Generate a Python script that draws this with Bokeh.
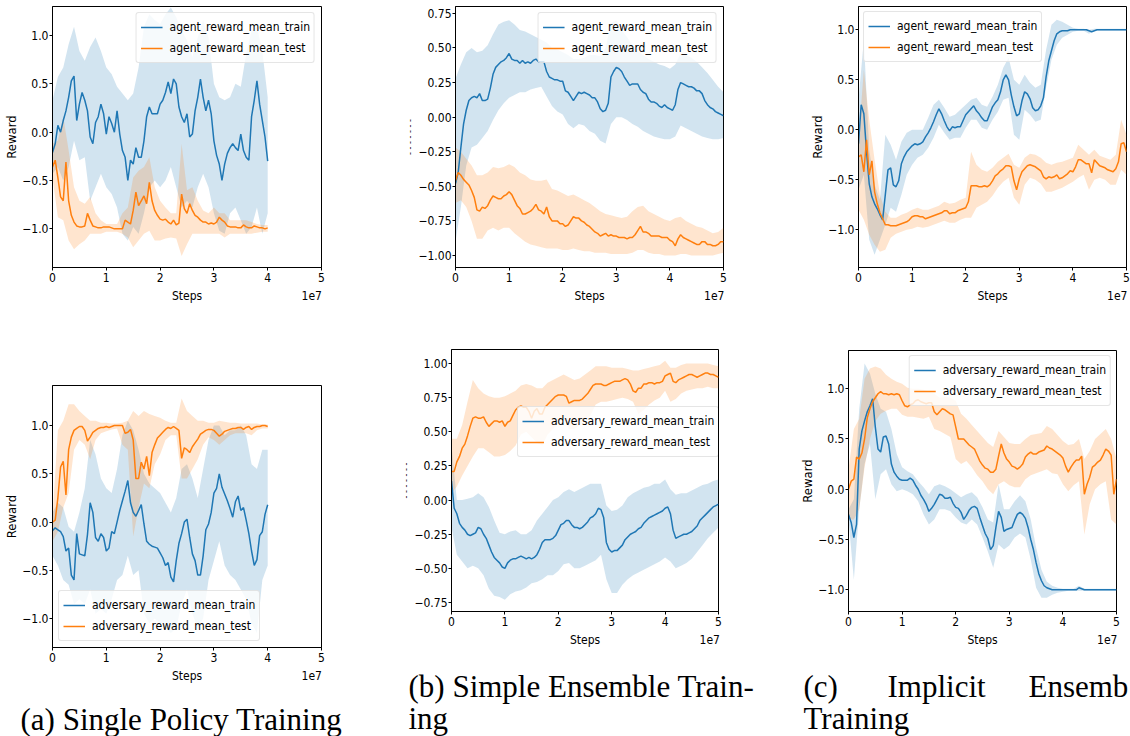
import numpy as np
from bokeh.core.properties import value
from bokeh.embed import file_html
from bokeh.layouts import column, row
from bokeh.models import CustomJSTickFormatter, FixedTicker, Legend, LegendItem, Range1d
from bokeh.plotting import figure
from bokeh.resources import INLINE

BLUE = "#1f77b4"
ORANGE = "#ff7f0e"
SANS = "DejaVu Sans Condensed, DejaVu Sans"
SERIF = "Liberation Serif"

MEAN_STEP = 0.5e6   # env steps between logged running means
BAND_STEP = 1.0e6   # env steps between logged min/max envelopes
STEP_UNIT = 1e7     # x axis is shown in units of 1e7 steps

# ---------------------------------------------------------------- (a) single policy
SINGLE_AGENT_TRAIN = [
    -0.21, -0.12, 0.07, 0.00, 0.12, 0.22, 0.36, 0.53, 0.58, 0.12,
    0.29, 0.41, 0.33, 0.22, -0.05, -0.12, 0.10, 0.16, 0.29, 0.19,
    -0.02, 0.16, 0.09, 0.00, 0.22, -0.02, -0.19, -0.26, -0.50, -0.29,
    -0.33, -0.16, -0.26, -0.26, -0.09, 0.16, 0.26, 0.19, 0.19, 0.19,
    0.29, 0.33, 0.41, 0.52, 0.40, 0.55, 0.50, 0.26, 0.16, 0.10,
    0.19, -0.05, -0.02, 0.22, 0.36, 0.55, 0.36, 0.22, 0.33, 0.19,
    -0.09, -0.24, -0.33, -0.50, -0.33, -0.22, -0.16, -0.12, -0.16, -0.19,
    -0.02, -0.19, -0.26, -0.29, 0.16, 0.33, 0.53, 0.29, 0.12, -0.05,
    -0.30]
SINGLE_AGENT_TRAIN_HI = [
    0.33, 0.57, 0.67, 0.91, 1.09, 0.84, 0.74, 0.88, 0.98, 0.84,
    0.67, 0.60, 0.47, 0.40, 0.33, 0.40, 0.67, 1.09, 1.22, 1.16,
    1.12, 1.22, 1.29, 1.19, 1.05, 0.95, 0.78, 0.98, 1.16, 0.98,
    0.50, 0.36, 0.33, 0.36, 0.50, 0.47, 0.81, 1.05, 1.09, 0.84,
    0.36]
SINGLE_AGENT_TRAIN_LO = [
    -0.43, -0.36, -0.50, -0.36, -0.09, -0.29, -0.26, -0.71, -0.57, -0.43,
    -0.57, -0.64, -0.78, -1.05, -1.12, -0.98, -1.05, -0.84, -0.57, -0.50,
    -0.57, -0.50, -0.36, -0.57, -0.78, -0.71, -0.78, -0.57, -0.43, -0.57,
    -0.84, -1.02, -1.05, -0.84, -0.78, -0.91, -1.05, -0.98, -0.78, -1.05,
    -0.84]
SINGLE_AGENT_TEST = [
    -0.36, -0.29, -0.47, -0.67, -0.71, -0.31, -0.71, -0.86, -0.93, -0.97,
    -0.98, -0.98, -0.97, -0.84, -0.91, -0.97, -0.98, -0.99, -0.99, -0.98,
    -0.98, -0.98, -0.99, -1.00, -1.00, -1.00, -1.00, -0.91, -0.93, -0.95,
    -0.81, -0.62, -0.76, -0.71, -0.66, -0.74, -0.52, -0.71, -0.81, -0.86,
    -0.90, -0.91, -0.90, -0.93, -0.95, -0.91, -0.96, -0.94, -0.64, -0.79,
    -0.84, -0.74, -0.81, -0.86, -0.88, -0.91, -0.93, -0.93, -0.95, -0.94,
    -0.95, -0.93, -0.88, -0.91, -0.93, -0.97, -0.98, -0.98, -0.98, -0.99,
    -0.99, -0.96, -0.98, -0.99, -0.99, -0.97, -0.98, -0.99, -0.99, -1.00,
    -0.99]
SINGLE_AGENT_TEST_HI = [
    -0.12, -0.09, 0.16, -0.19, -0.57, -0.71, -0.74, -0.67, -0.84, -0.91,
    -0.95, -0.95, -0.95, -0.84, -0.78, -0.47, -0.40, -0.36, -0.26, -0.57,
    -0.71, -0.78, -0.84, -0.84, -0.12, -0.60, -0.57, -0.71, -0.81, -0.84,
    -0.78, -0.84, -0.84, -0.91, -0.91, -0.91, -0.91, -0.93, -0.95, -0.96,
    -0.96]
SINGLE_AGENT_TEST_LO = [
    -0.47, -0.88, -0.91, -1.12, -1.21, -1.16, -1.12, -1.05, -1.05, -1.05,
    -1.03, -1.03, -1.03, -1.05, -1.09, -1.19, -1.12, -1.05, -1.02, -1.12,
    -1.12, -1.10, -1.09, -1.10, -1.28, -1.16, -1.05, -1.05, -1.05, -1.05,
    -1.05, -1.05, -1.09, -1.05, -1.05, -1.05, -1.05, -1.05, -1.04, -1.03,
    -1.03]

SINGLE_ADV_TRAIN = [
    -0.09, -0.06, -0.08, -0.10, -0.15, -0.30, -0.27, -0.55, -0.60, -0.12,
    -0.33, -0.34, -0.35, -0.13, 0.20, 0.10, -0.16, -0.20, -0.12, -0.16,
    -0.30, -0.27, -0.10, -0.12, 0.00, 0.12, 0.22, 0.32, 0.43, 0.20,
    0.10, 0.06, 0.12, 0.18, -0.02, -0.20, -0.23, -0.25, -0.26, -0.27,
    -0.32, -0.37, -0.45, -0.42, -0.57, -0.62, -0.40, -0.22, -0.12, 0.00,
    0.03, -0.16, -0.33, -0.40, -0.55, -0.55, -0.35, -0.08, -0.02, 0.10,
    0.30, 0.35, 0.50, 0.36, 0.29, 0.22, 0.14, 0.05, 0.21, 0.27,
    0.12, 0.15, 0.02, -0.12, -0.30, -0.45, -0.39, -0.14, -0.10, 0.08,
    0.18]
SINGLE_ADV_TRAIN_HI = [
    0.10, 0.20, 0.15, -0.05, -0.10, 0.10, 0.35, 0.85, 0.70, 0.45,
    0.35, 0.30, 0.55, 0.90, 1.05, 0.95, 0.75, 0.50, 0.40, 0.35,
    0.30, 0.20, 0.10, 0.25, 0.55, 0.60, 0.45, 0.25, 0.55, 0.85,
    1.00, 1.00, 0.90, 0.95, 0.95, 1.00, 0.90, 0.60, 0.55, 0.75,
    0.75]
SINGLE_ADV_TRAIN_LO = [
    -0.35, -0.45, -0.60, -0.65, -0.85, -0.80, -0.85, -0.70, -0.95, -0.90,
    -0.95, -0.80, -0.60, -0.55, -0.35, -0.55, -0.50, -0.95, -1.05, -1.00,
    -1.05, -1.10, -1.15, -1.10, -0.85, -0.70, -0.95, -1.10, -1.00, -0.60,
    -0.40, -0.20, -0.45, -0.55, -0.60, -0.70, -0.80, -1.05, -1.15, -0.60,
    -0.45]
SINGLE_ADV_TEST = [
    0.00, 0.02, 0.25, 0.57, 0.63, 0.28, 0.75, 0.88, 0.95, 0.97,
    0.99, 0.99, 0.95, 0.84, 0.88, 0.93, 0.95, 0.97, 0.98, 0.98,
    0.99, 0.98, 0.99, 1.00, 1.00, 1.00, 1.00, 0.92, 0.93, 0.96,
    0.85, 0.45, 0.45, 0.62, 0.55, 0.68, 0.48, 0.72, 0.80, 0.87,
    0.90, 0.93, 0.96, 0.98, 0.97, 0.99, 0.97, 0.95, 0.66, 0.77,
    0.75, 0.72, 0.78, 0.82, 0.86, 0.91, 0.93, 0.95, 0.96, 0.96,
    0.95, 0.92, 0.89, 0.91, 0.94, 0.95, 0.96, 0.97, 0.97, 0.98,
    0.98, 0.96, 0.98, 0.99, 0.96, 0.98, 0.99, 0.99, 1.00, 1.00,
    0.99]
SINGLE_ADV_TEST_HI = [
    0.05, 0.95, 1.05, 1.22, 1.22, 1.15, 1.10, 1.05, 1.05, 1.03,
    1.03, 1.02, 1.02, 1.03, 1.05, 1.15, 1.10, 1.15, 1.12, 1.10,
    1.08, 1.05, 1.03, 1.03, 1.28, 1.15, 1.10, 1.05, 1.05, 1.03,
    1.03, 1.05, 1.04, 1.03, 1.03, 1.02, 1.02, 1.02, 1.02, 1.01,
    1.01]
SINGLE_ADV_TEST_LO = [
    -0.20, -0.10, 0.15, 0.30, 0.75, 0.85, 0.80, 0.65, 0.85, 0.92,
    0.94, 0.96, 0.97, 0.80, 0.75, -0.15, 0.15, 0.40, 0.35, 0.60,
    0.70, 0.85, 0.90, 0.90, 0.45, 0.45, 0.55, 0.65, 0.80, 0.88,
    0.85, 0.80, 0.85, 0.90, 0.92, 0.92, 0.92, 0.90, 0.95, 0.97,
    0.97]

# ---------------------------------------------------------------- (b) simple ensemble
ENSEMBLE_AGENT_TRAIN = [
    -0.48, -0.40, -0.22, -0.05, 0.05, 0.12, 0.14, 0.15, 0.14, 0.17,
    0.12, 0.12, 0.13, 0.21, 0.31, 0.36, 0.38, 0.40, 0.41, 0.43,
    0.46, 0.42, 0.41, 0.41, 0.39, 0.41, 0.39, 0.40, 0.39, 0.41,
    0.42, 0.40, 0.40, 0.40, 0.33, 0.29, 0.28, 0.27, 0.27, 0.26,
    0.26, 0.19, 0.18, 0.15, 0.12, 0.15, 0.18, 0.17, 0.18, 0.17,
    0.16, 0.14, 0.14, 0.11, 0.06, 0.04, 0.05, 0.10, 0.29, 0.33,
    0.36, 0.35, 0.33, 0.29, 0.26, 0.23, 0.24, 0.24, 0.24, 0.20,
    0.18, 0.17, 0.13, 0.11, 0.11, 0.10, 0.08, 0.07, 0.09, 0.07,
    0.06, 0.05, 0.09, 0.20, 0.25, 0.24, 0.23, 0.22, 0.22, 0.21,
    0.19, 0.19, 0.17, 0.12, 0.09, 0.07, 0.06, 0.04, 0.03, 0.02,
    0.01]
ENSEMBLE_AGENT_TRAIN_HI = [
    0.28, 0.38, 0.47, 0.50, 0.47, 0.48, 0.52, 0.60, 0.67, 0.69,
    0.70, 0.67, 0.63, 0.62, 0.60, 0.58, 0.56, 0.54, 0.50, 0.49,
    0.47, 0.45, 0.42, 0.42, 0.43, 0.45, 0.45, 0.44, 0.50, 0.68,
    0.70, 0.63, 0.58, 0.52, 0.48, 0.45, 0.42, 0.40, 0.38, 0.37,
    0.35, 0.38, 0.46, 0.45, 0.43, 0.40, 0.36, 0.32, 0.27, 0.22,
    0.18]
ENSEMBLE_AGENT_TRAIN_LO = [
    -0.90, -0.65, -0.35, -0.22, -0.20, -0.15, -0.10, -0.02, 0.05, 0.10,
    0.14, 0.16, 0.18, 0.18, 0.20, 0.21, 0.22, 0.15, 0.08, 0.04,
    0.02, -0.05, -0.08, -0.05, -0.06, -0.10, -0.12, -0.17, -0.19, -0.05,
    0.00, 0.00, -0.02, -0.05, -0.07, -0.10, -0.12, -0.14, -0.15, -0.16,
    -0.16, -0.14, -0.06, -0.08, -0.10, -0.12, -0.14, -0.15, -0.16, -0.16,
    -0.15]
ENSEMBLE_AGENT_TEST = [
    -0.46, -0.40, -0.42, -0.45, -0.47, -0.49, -0.53, -0.58, -0.67, -0.68,
    -0.65, -0.66, -0.64, -0.60, -0.57, -0.58, -0.59, -0.59, -0.57, -0.56,
    -0.54, -0.56, -0.60, -0.64, -0.66, -0.70, -0.70, -0.69, -0.68, -0.66,
    -0.63, -0.67, -0.68, -0.70, -0.65, -0.72, -0.75, -0.75, -0.75, -0.77,
    -0.77, -0.79, -0.78, -0.75, -0.72, -0.73, -0.73, -0.75, -0.76, -0.78,
    -0.79, -0.81, -0.83, -0.84, -0.86, -0.85, -0.84, -0.86, -0.85, -0.86,
    -0.86, -0.87, -0.87, -0.87, -0.88, -0.87, -0.87, -0.85, -0.82, -0.79,
    -0.83, -0.83, -0.84, -0.86, -0.86, -0.86, -0.86, -0.87, -0.87, -0.87,
    -0.89, -0.90, -0.93, -0.88, -0.85, -0.87, -0.88, -0.89, -0.90, -0.91,
    -0.92, -0.92, -0.90, -0.90, -0.92, -0.92, -0.93, -0.93, -0.92, -0.90,
    -0.90]
ENSEMBLE_AGENT_TEST_HI = [
    -0.22, -0.25, -0.30, -0.35, -0.42, -0.42, -0.40, -0.36, -0.37, -0.36,
    -0.34, -0.36, -0.40, -0.42, -0.45, -0.46, -0.46, -0.45, -0.52, -0.53,
    -0.55, -0.57, -0.56, -0.58, -0.60, -0.62, -0.65, -0.68, -0.70, -0.71,
    -0.72, -0.73, -0.72, -0.68, -0.65, -0.64, -0.68, -0.70, -0.72, -0.74,
    -0.75, -0.73, -0.72, -0.75, -0.77, -0.79, -0.80, -0.82, -0.84, -0.83,
    -0.80]
ENSEMBLE_AGENT_TEST_LO = [
    -0.62, -0.60, -0.65, -0.75, -0.88, -0.88, -0.82, -0.80, -0.82, -0.80,
    -0.80, -0.84, -0.87, -0.90, -0.92, -0.93, -0.94, -0.95, -0.95, -0.95,
    -0.96, -0.96, -0.95, -0.96, -0.97, -0.97, -0.98, -0.98, -0.98, -0.99,
    -0.99, -0.99, -0.99, -0.98, -0.96, -0.96, -0.98, -0.99, -0.99, -1.00,
    -1.00, -1.00, -0.99, -0.99, -1.00, -1.00, -1.00, -1.00, -1.00, -0.99,
    -0.98]

ENSEMBLE_ADV_TRAIN = [
    0.14, -0.06, -0.10, -0.17, -0.20, -0.22, -0.25, -0.26, -0.25, -0.24,
    -0.20, -0.21, -0.25, -0.28, -0.33, -0.38, -0.42, -0.44, -0.46, -0.49,
    -0.50, -0.46, -0.44, -0.43, -0.43, -0.42, -0.41, -0.42, -0.43, -0.42,
    -0.43, -0.42, -0.40, -0.36, -0.31, -0.29, -0.29, -0.29, -0.28, -0.26,
    -0.22, -0.18, -0.17, -0.15, -0.15, -0.18, -0.20, -0.20, -0.21, -0.20,
    -0.18, -0.16, -0.13, -0.12, -0.10, -0.06, -0.07, -0.13, -0.31, -0.36,
    -0.38, -0.37, -0.37, -0.35, -0.33, -0.29, -0.27, -0.25, -0.24, -0.23,
    -0.21, -0.20, -0.17, -0.15, -0.13, -0.12, -0.11, -0.10, -0.09, -0.08,
    -0.06, -0.05, -0.10, -0.22, -0.28, -0.27, -0.26, -0.25, -0.25, -0.24,
    -0.23, -0.21, -0.19, -0.15, -0.13, -0.11, -0.09, -0.07, -0.05, -0.04,
    -0.03]
ENSEMBLE_ADV_TRAIN_HI = [
    0.40, 0.00, 0.00, 0.01, 0.02, 0.05, 0.02, -0.05, -0.15, -0.24,
    -0.25, -0.23, -0.22, -0.25, -0.25, -0.22, -0.15, -0.10, -0.05, 0.00,
    0.02, 0.06, 0.08, 0.06, 0.08, 0.10, 0.12, 0.12, 0.12, -0.04,
    -0.08, -0.07, -0.04, 0.02, 0.05, 0.07, 0.09, 0.10, 0.12, 0.12,
    0.15, 0.08, 0.04, 0.05, 0.05, 0.07, 0.09, 0.11, 0.12, 0.14,
    0.15]
ENSEMBLE_ADV_TRAIN_LO = [
    -0.20, -0.40, -0.45, -0.50, -0.48, -0.50, -0.55, -0.65, -0.70, -0.71,
    -0.73, -0.69, -0.67, -0.66, -0.64, -0.61, -0.60, -0.58, -0.55, -0.55,
    -0.52, -0.47, -0.46, -0.50, -0.50, -0.48, -0.46, -0.44, -0.40, -0.58,
    -0.68, -0.68, -0.62, -0.58, -0.55, -0.53, -0.51, -0.49, -0.47, -0.45,
    -0.42, -0.45, -0.50, -0.48, -0.46, -0.43, -0.38, -0.33, -0.28, -0.24,
    -0.20]
ENSEMBLE_ADV_TEST = [
    0.21, 0.21, 0.28, 0.32, 0.38, 0.41, 0.47, 0.54, 0.60, 0.61,
    0.60, 0.60, 0.61, 0.57, 0.54, 0.56, 0.58, 0.58, 0.57, 0.58,
    0.54, 0.57, 0.58, 0.62, 0.66, 0.68, 0.69, 0.68, 0.68, 0.65,
    0.60, 0.65, 0.67, 0.63, 0.63, 0.68, 0.70, 0.72, 0.74, 0.76,
    0.77, 0.77, 0.77, 0.76, 0.71, 0.72, 0.73, 0.73, 0.73, 0.74,
    0.76, 0.78, 0.81, 0.84, 0.85, 0.85, 0.85, 0.84, 0.84, 0.85,
    0.86, 0.87, 0.87, 0.87, 0.88, 0.89, 0.88, 0.85, 0.80, 0.79,
    0.82, 0.82, 0.85, 0.85, 0.86, 0.86, 0.85, 0.86, 0.86, 0.87,
    0.91, 0.92, 0.93, 0.87, 0.86, 0.88, 0.89, 0.90, 0.91, 0.92,
    0.92, 0.91, 0.90, 0.91, 0.92, 0.93, 0.93, 0.92, 0.92, 0.91,
    0.90]
ENSEMBLE_ADV_TEST_HI = [
    0.45, 0.45, 0.55, 0.72, 0.88, 0.82, 0.78, 0.76, 0.75, 0.75,
    0.76, 0.78, 0.80, 0.84, 0.85, 0.84, 0.82, 0.82, 0.86, 0.88,
    0.90, 0.92, 0.90, 0.88, 0.89, 0.92, 0.95, 0.98, 0.98, 0.98,
    0.97, 0.97, 0.97, 0.96, 0.95, 0.95, 0.96, 0.97, 0.98, 0.99,
    1.02, 0.97, 0.97, 0.99, 1.00, 1.00, 1.00, 1.00, 1.00, 0.99,
    0.98]
ENSEMBLE_ADV_TEST_LO = [
    0.05, 0.10, 0.18, 0.25, 0.32, 0.38, 0.38, 0.35, 0.32, 0.32,
    0.33, 0.36, 0.40, 0.48, 0.50, 0.46, 0.42, 0.40, 0.48, 0.52,
    0.56, 0.60, 0.52, 0.52, 0.55, 0.58, 0.62, 0.70, 0.72, 0.72,
    0.73, 0.74, 0.75, 0.74, 0.72, 0.63, 0.66, 0.70, 0.73, 0.75,
    0.80, 0.72, 0.74, 0.78, 0.80, 0.81, 0.82, 0.82, 0.83, 0.82,
    0.82]

# ---------------------------------------------------------------- (c) implicit ensemble
IMPLICIT_AGENT_TRAIN = [
    -0.14, 0.25, 0.16, -0.22, -0.54, -0.67, -0.74, -0.79, -0.85, -0.90,
    -0.65, -0.40, -0.38, -0.55, -0.57, -0.51, -0.34, -0.27, -0.22, -0.19,
    -0.16, -0.14, -0.15, -0.14, -0.12, -0.07, -0.03, 0.02, 0.08, 0.15,
    0.21, 0.16, 0.09, 0.03, -0.01, 0.03, 0.02, 0.03, 0.03, 0.09,
    0.15, 0.18, 0.21, 0.24, 0.19, 0.16, 0.12, 0.09, 0.09, 0.16,
    0.23, 0.27, 0.30, 0.38, 0.50, 0.55, 0.50, 0.35, 0.23, 0.14,
    0.16, 0.29, 0.38, 0.36, 0.31, 0.22, 0.19, 0.20, 0.24, 0.32,
    0.53, 0.69, 0.79, 0.89, 0.96, 0.98, 0.99, 0.99, 0.99, 1.00,
    1.00, 1.00, 1.00, 1.00, 1.00, 1.00, 0.99, 0.98, 0.99, 1.00,
    1.00, 1.00, 1.00, 1.00, 1.00, 1.00, 1.00, 1.00, 1.00, 1.00,
    1.00]
IMPLICIT_AGENT_TRAIN_HI = [
    0.30, 0.90, -0.20, -0.55, -0.70, -0.05, -0.15, -0.30, -0.12, -0.03,
    0.00, 0.00, 0.00, 0.12, 0.25, 0.30, 0.22, 0.13, 0.15, 0.20,
    0.25, 0.30, 0.32, 0.25, 0.23, 0.33, 0.45, 0.62, 0.72, 0.50,
    0.45, 0.55, 0.47, 0.42, 0.45, 0.80, 1.05, 1.10, 1.08, 1.05,
    1.02, 1.01, 1.01, 1.00, 1.01, 1.01, 1.01, 1.01, 1.01, 1.01,
    1.01]
IMPLICIT_AGENT_TRAIN_LO = [
    -0.60, -0.45, -1.10, -1.25, -1.10, -0.95, -0.78, -0.82, -0.65, -0.45,
    -0.35, -0.28, -0.25, -0.18, -0.08, 0.05, -0.03, -0.10, -0.08, -0.08,
    0.02, 0.10, 0.10, 0.02, 0.00, 0.10, 0.18, 0.30, 0.32, -0.05,
    -0.10, 0.20, 0.15, 0.08, 0.10, 0.42, 0.70, 0.85, 0.92, 0.95,
    0.98, 0.99, 0.99, 0.96, 0.99, 0.99, 0.99, 0.99, 0.99, 0.99,
    0.99]
IMPLICIT_AGENT_TEST = [
    -0.27, -0.25, -0.42, -0.10, -0.45, -0.31, -0.62, -0.74, -0.83, -0.89,
    -0.95, -0.95, -0.96, -0.96, -0.96, -0.95, -0.94, -0.93, -0.92, -0.90,
    -0.87, -0.86, -0.86, -0.87, -0.87, -0.89, -0.88, -0.87, -0.86, -0.85,
    -0.84, -0.83, -0.81, -0.81, -0.84, -0.83, -0.83, -0.81, -0.80, -0.79,
    -0.78, -0.72, -0.56, -0.56, -0.56, -0.57, -0.57, -0.56, -0.57, -0.55,
    -0.51, -0.46, -0.44, -0.41, -0.39, -0.36, -0.36, -0.37, -0.51, -0.60,
    -0.49, -0.42, -0.39, -0.36, -0.35, -0.36, -0.37, -0.39, -0.41, -0.47,
    -0.49, -0.47, -0.48, -0.47, -0.45, -0.49, -0.48, -0.46, -0.44, -0.41,
    -0.42, -0.37, -0.30, -0.30, -0.32, -0.34, -0.34, -0.43, -0.30, -0.33,
    -0.36, -0.37, -0.38, -0.40, -0.41, -0.42, -0.39, -0.32, -0.14, -0.13,
    -0.22]
IMPLICIT_AGENT_TEST_HI = [
    -0.10, 0.60, 0.10, -0.30, -0.65, -0.82, -0.88, -0.88, -0.85, -0.83,
    -0.80, -0.78, -0.80, -0.80, -0.78, -0.76, -0.72, -0.74, -0.73, -0.70,
    -0.68, -0.22, -0.35, -0.40, -0.42, -0.38, -0.32, -0.28, -0.24, -0.35,
    -0.38, -0.28, -0.24, -0.25, -0.28, -0.33, -0.35, -0.33, -0.32, -0.30,
    -0.28, -0.15, -0.20, -0.25, -0.20, -0.26, -0.28, -0.30, -0.25, 0.10,
    -0.05]
IMPLICIT_AGENT_TEST_LO = [
    -0.80, -0.90, -1.05, -1.15, -1.22, -1.20, -1.08, -1.04, -1.02, -1.00,
    -0.99, -0.97, -0.98, -0.97, -0.95, -0.93, -0.91, -0.93, -0.93, -0.90,
    -0.88, -0.88, -0.78, -0.75, -0.72, -0.66, -0.58, -0.52, -0.48, -0.68,
    -0.75, -0.55, -0.48, -0.50, -0.54, -0.62, -0.62, -0.60, -0.58, -0.55,
    -0.52, -0.48, -0.45, -0.60, -0.50, -0.48, -0.50, -0.55, -0.55, -0.40,
    -0.45]

IMPLICIT_ADV_TRAIN = [
    -0.25, -0.33, -0.48, -0.35, 0.40, 0.58, 0.68, 0.77, 0.83, 0.90,
    0.62, 0.40, 0.37, 0.52, 0.53, 0.45, 0.25, 0.17, 0.13, 0.10,
    0.09, 0.09, 0.09, 0.11, 0.09, 0.04, 0.00, -0.06, -0.10, -0.15,
    -0.22, -0.19, -0.15, -0.10, -0.05, -0.06, -0.09, -0.09, -0.08, -0.14,
    -0.18, -0.19, -0.23, -0.30, -0.26, -0.21, -0.18, -0.17, -0.19, -0.28,
    -0.36, -0.44, -0.49, -0.60, -0.56, -0.38, -0.22, -0.28, -0.42, -0.40,
    -0.39, -0.38, -0.31, -0.25, -0.23, -0.25, -0.29, -0.38, -0.50, -0.60,
    -0.73, -0.84, -0.91, -0.96, -0.98, -0.99, -1.00, -1.00, -1.00, -1.00,
    -1.00, -1.00, -1.00, -1.00, -1.00, -1.00, -0.98, -0.99, -1.00, -1.00,
    -1.00, -1.00, -1.00, -1.00, -1.00, -1.00, -1.00, -1.00, -1.00, -1.00,
    -1.00]
IMPLICIT_ADV_TRAIN_HI = [
    -0.20, -0.10, 0.80, 1.25, 1.15, 0.95, 0.80, 0.77, 0.60, 0.35,
    0.22, 0.18, 0.15, 0.08, 0.02, -0.05, 0.03, 0.05, 0.03, 0.00,
    -0.04, -0.08, -0.05, -0.03, -0.08, -0.18, -0.30, -0.33, 0.05, -0.20,
    -0.20, -0.12, -0.06, -0.12, -0.30, -0.58, -0.80, -0.92, -0.96, -0.98,
    -0.99, -0.99, -0.99, -0.96, -0.99, -0.99, -0.99, -0.99, -0.99, -0.99,
    -0.99]
IMPLICIT_ADV_TRAIN_LO = [
    -0.30, -0.90, -0.20, 0.25, 0.45, -0.10, 0.15, 0.20, 0.05, -0.02,
    0.00, -0.02, -0.05, -0.12, -0.25, -0.35, -0.30, -0.20, -0.20, -0.22,
    -0.28, -0.33, -0.35, -0.30, -0.35, -0.48, -0.62, -0.78, -0.55, -0.60,
    -0.56, -0.48, -0.44, -0.48, -0.70, -0.98, -1.08, -1.08, -1.05, -1.03,
    -1.02, -1.01, -1.01, -1.01, -1.01, -1.01, -1.01, -1.01, -1.01, -1.01,
    -1.01]
IMPLICIT_ADV_TEST = [
    0.00, 0.08, 0.10, 0.32, 0.30, 0.36, 0.50, 0.71, 0.80, 0.87,
    0.91, 0.95, 0.97, 0.95, 0.95, 0.94, 0.95, 0.94, 0.95, 0.94,
    0.88, 0.83, 0.82, 0.84, 0.85, 0.88, 0.89, 0.87, 0.86, 0.85,
    0.86, 0.86, 0.77, 0.74, 0.77, 0.80, 0.79, 0.77, 0.75, 0.74,
    0.62, 0.50, 0.50, 0.50, 0.47, 0.44, 0.42, 0.40, 0.34, 0.28,
    0.24, 0.21, 0.20, 0.17, 0.17, 0.20, 0.33, 0.45, 0.36, 0.30,
    0.27, 0.23, 0.22, 0.20, 0.22, 0.25, 0.32, 0.35, 0.37, 0.35,
    0.35, 0.37, 0.38, 0.39, 0.43, 0.41, 0.40, 0.38, 0.36, 0.34,
    0.31, 0.23, 0.17, 0.22, 0.26, 0.29, 0.29, 0.33, -0.05, 0.05,
    0.12, 0.22, 0.24, 0.27, 0.29, 0.34, 0.40, 0.38, 0.34, -0.05,
    0.10]
IMPLICIT_ADV_TEST_HI = [
    0.20, 0.60, 0.70, 1.10, 1.20, 1.22, 1.20, 1.14, 1.10, 1.07,
    1.05, 1.01, 1.00, 1.00, 0.99, 0.97, 0.95, 0.91, 0.92, 0.91,
    0.88, 0.75, 0.70, 0.64, 0.58, 0.52, 0.46, 0.42, 0.58, 0.52,
    0.46, 0.45, 0.45, 0.50, 0.54, 0.55, 0.56, 0.63, 0.60, 0.54,
    0.48, 0.44, 0.45, 0.50, 0.30, 0.38, 0.50, 0.55, 0.60, 0.50,
    0.30]
IMPLICIT_ADV_TEST_LO = [
    -0.30, -0.30, -0.20, 0.22, 0.50, 0.68, 0.75, 0.78, 0.80, 0.80,
    0.74, 0.72, 0.72, 0.71, 0.70, 0.72, 0.60, 0.58, 0.55, 0.52,
    0.30, 0.25, 0.28, 0.22, 0.14, 0.08, 0.00, -0.05, 0.05, 0.08,
    0.04, 0.02, 0.02, 0.10, 0.14, 0.16, 0.18, 0.20, 0.16, 0.15,
    0.05, -0.02, 0.04, 0.08, -0.45, -0.15, 0.00, 0.05, 0.08, -0.30,
    -0.35]

X_TICKS = [0, 1, 2, 3, 4, 5]
AGENT_NAMES = ["agent_reward_mean_train", "agent_reward_mean_test"]
ADV_NAMES = ["adversary_reward_mean_train", "adversary_reward_mean_test"]
TICKS_HALF = [-1.0, -0.5, 0.0, 0.5, 1.0]
TICKS_QUARTER_AGENT = [-1.0, -0.75, -0.5, -0.25, 0.0, 0.25, 0.5, 0.75]
TICKS_QUARTER_ADV = [-0.75, -0.5, -0.25, 0.0, 0.25, 0.5, 0.75, 1.0]

NBSP = "\u00a0"


def steps(vals, step):
    return np.arange(len(vals)) * step / STEP_UNIT


def x_label(frame_w):
    # "Steps" centred under the frame, the 1e7 multiplier flush right on the same line
    space_w, steps_w, exp_w = 3.43, 30.2, 20.4
    mid = round((frame_w / 2 - steps_w / 2 - exp_w) / space_w)
    pad = round((mid * space_w + exp_w) / space_w)
    return NBSP * pad + "Steps" + NBSP * mid + "1e7"


def free_frame(p):
    # keep each plot's frame where its own borders put it inside the layout
    if "frame_align" in p.properties():
        p.frame_align = False
    return p


def make_panel(width, height, borders, y_range, yticks, decimals, ylabel,
               ylabel_size, train, test, names, legend_location, legend_margin):
    left, right, top, bottom = borders
    p = figure(width=width, height=height, title=None, toolbar_location=None,
               output_backend="svg", x_range=Range1d(0, 5), y_range=Range1d(*y_range),
               min_border_left=left, min_border_right=right,
               min_border_top=top, min_border_bottom=bottom,
               background_fill_color="white", border_fill_color="white")
    free_frame(p)
    p.grid.visible = False
    p.outline_line_color = "black"
    p.outline_line_width = 1

    p.xaxis.ticker = FixedTicker(ticks=X_TICKS)
    p.yaxis.ticker = FixedTicker(ticks=yticks)
    p.yaxis.formatter = CustomJSTickFormatter(args=dict(nd=decimals), code="""
        const s = Math.abs(tick).toFixed(nd);
        return tick < -1e-9 ? "\\u2212" + s : s;
    """)
    p.axis.major_tick_out = 3
    p.axis.major_tick_in = 0
    p.axis.minor_tick_out = 0
    p.axis.minor_tick_in = 0
    p.axis.axis_line_color = "black"
    p.axis.major_tick_line_color = "black"
    p.axis.major_label_text_font = SANS
    p.axis.major_label_text_font_size = "12px"
    p.axis.major_label_text_color = "black"
    p.axis.axis_label_text_font = SANS
    p.axis.axis_label_text_font_style = "normal"
    p.axis.axis_label_text_color = "black"
    p.xaxis.major_label_standoff = 2
    p.yaxis.major_label_standoff = 1
    p.xaxis.axis_label = x_label(width - left - right)
    p.xaxis.axis_label_text_font_size = "12px"
    p.xaxis.axis_label_standoff = 4
    p.yaxis.axis_label = ylabel
    p.yaxis.axis_label_text_font_size = ylabel_size
    p.yaxis.axis_label_standoff = 0

    series = [(train, BLUE), (test, ORANGE)]
    for (mean, hi, lo), color in series:
        p.varea(x=steps(hi, BAND_STEP), y1=lo, y2=hi,
                fill_color=color, fill_alpha=0.2)
    lines = []
    for (mean, hi, lo), color in series:
        lines.append(p.line(steps(mean, MEAN_STEP), mean,
                            line_color=color, line_width=1.5))

    legend = Legend(
        items=[LegendItem(label=n, renderers=[r]) for n, r in zip(names, lines)],
        location=legend_location, margin=legend_margin, padding=4, spacing=1,
        glyph_width=22, glyph_height=20, label_height=20, label_standoff=7,
        label_text_font=SANS, label_text_font_size="12px", label_text_color="black",
        border_line_color="#cccccc", border_line_width=1,
        background_fill_color="white", background_fill_alpha=0.8)
    if "border_radius" in legend.properties():
        legend.border_radius = 3
    p.add_layout(legend)
    return p


def make_caption(width, height, xs, ys, texts):
    c = figure(width=width, height=height, title=None, toolbar_location=None,
               output_backend="svg", x_range=Range1d(0, width),
               y_range=Range1d(height, 0), x_axis_type=None, y_axis_type=None,
               min_border=0, outline_line_color=None,
               background_fill_color="white", border_fill_color="white")
    free_frame(c)
    c.text(x=xs, y=ys, text=texts, text_font=value(SERIF), text_font_size="31px",
           text_color="black", text_baseline="alphabetic", text_align="left")
    return c


single_agent = make_panel(
    390, 330, (52, 69, 6, 63), (-1.40, 1.30), TICKS_HALF, 1, "Reward", "13px",
    (SINGLE_AGENT_TRAIN, SINGLE_AGENT_TRAIN_HI, SINGLE_AGENT_TRAIN_LO),
    (SINGLE_AGENT_TEST, SINGLE_AGENT_TEST_HI, SINGLE_AGENT_TEST_LO),
    AGENT_NAMES, "top_right", 6)
single_adv = make_panel(
    390, 360, (52, 69, 55, 43), (-1.30, 1.415), TICKS_HALF, 1, "Reward", "13px",
    (SINGLE_ADV_TRAIN, SINGLE_ADV_TRAIN_HI, SINGLE_ADV_TRAIN_LO),
    (SINGLE_ADV_TEST, SINGLE_ADV_TEST_HI, SINGLE_ADV_TEST_LO),
    ADV_NAMES, "bottom_left", 6)

ensemble_agent = make_panel(
    400, 330, (65, 67, 6, 63), (-1.087, 0.80), TICKS_QUARTER_AGENT, 2,
    "- - - - - - -", "9px",
    (ENSEMBLE_AGENT_TRAIN, ENSEMBLE_AGENT_TRAIN_HI, ENSEMBLE_AGENT_TRAIN_LO),
    (ENSEMBLE_AGENT_TEST, ENSEMBLE_AGENT_TEST_HI, ENSEMBLE_AGENT_TEST_LO),
    AGENT_NAMES, "top_right", 6)
ensemble_adv = make_panel(
    400, 335, (61, 72, 19, 54), (-0.816, 1.103), TICKS_QUARTER_ADV, 2,
    "- - - - - - -", "9px",
    (ENSEMBLE_ADV_TRAIN, ENSEMBLE_ADV_TRAIN_HI, ENSEMBLE_ADV_TRAIN_LO),
    (ENSEMBLE_ADV_TEST, ENSEMBLE_ADV_TEST_HI, ENSEMBLE_ADV_TEST_LO),
    ADV_NAMES, (66, 154), 0)

implicit_agent = make_panel(
    340, 330, (68, 4, 6, 63), (-1.377, 1.233), TICKS_HALF, 1, "Reward", "13px",
    (IMPLICIT_AGENT_TRAIN, IMPLICIT_AGENT_TRAIN_HI, IMPLICIT_AGENT_TRAIN_LO),
    (IMPLICIT_AGENT_TEST, IMPLICIT_AGENT_TEST_HI, IMPLICIT_AGENT_TEST_LO),
    AGENT_NAMES, "top_left", 5)
implicit_adv = make_panel(
    340, 335, (58, 14, 20, 54), (-1.216, 1.38), TICKS_HALF, 1, "Reward", "13px",
    (IMPLICIT_ADV_TRAIN, IMPLICIT_ADV_TRAIN_HI, IMPLICIT_ADV_TRAIN_LO),
    (IMPLICIT_ADV_TEST, IMPLICIT_ADV_TEST_HI, IMPLICIT_ADV_TEST_LO),
    ADV_NAMES, "top_right", 5)

caption_a = make_caption(390, 46, [20], [29], ["(a) Single Policy Training"])
caption_b = make_caption(400, 71, [18, 18], [21, 53], ["(b) Simple Ensemble Train-", "ing"])
caption_c = make_caption(340, 71, [13, 97, 238, 13], [21, 21, 21, 53],
                         ["(c)", "Implicit", "Ensemb", "Training"])

page = row(
    column(single_agent, single_adv, caption_a, spacing=0),
    column(ensemble_agent, ensemble_adv, caption_b, spacing=0),
    column(implicit_agent, implicit_adv, caption_c, spacing=0),
    spacing=0)

open("out.html", "w").write(file_html(page, INLINE, title="Reward curves"))
